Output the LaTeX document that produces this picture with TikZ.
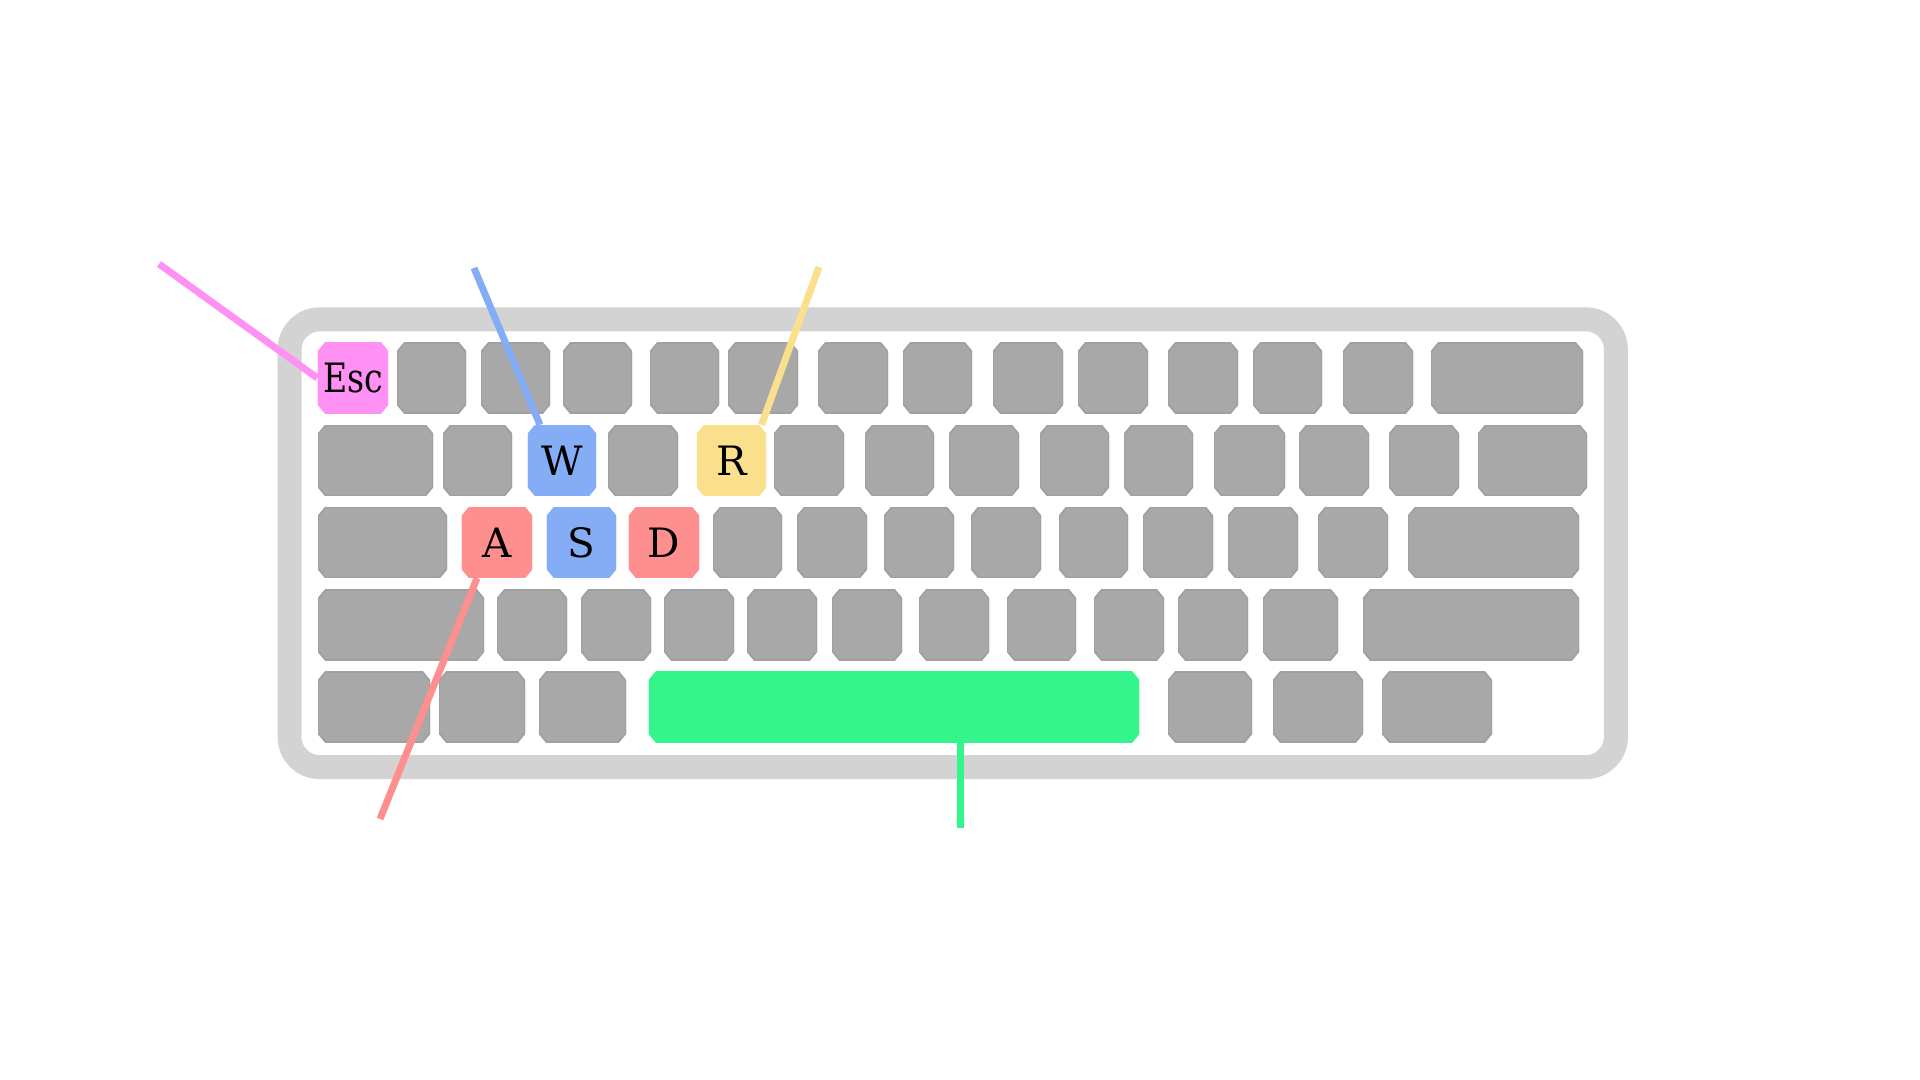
\documentclass[tikz,border=0pt]{standalone}
\usepackage{fontspec}
\setmainfont{DejaVu Serif}
\usepackage{tikz}

\definecolor{framegray}{RGB}{211,211,211}
\definecolor{keygray}{RGB}{168,168,168}
\definecolor{keyedge}{RGB}{160,160,160}
\definecolor{escpink}{RGB}{255,145,245}
\definecolor{wsblue}{RGB}{133,173,245}
\definecolor{ryellow}{RGB}{250,224,140}
\definecolor{adred}{RGB}{255,143,143}
\definecolor{spacegreen}{RGB}{51,245,140}

\tikzset{
    chamfer/.style 2 args={path picture={
        \path[fill=#1, draw=#2, line width=0.5pt]
            ([xshift=0.075cm]path picture bounding box.north west) -- ([xshift=-0.075cm]path picture bounding box.north east)
            -- ([yshift=-0.09cm]path picture bounding box.north east) -- ([yshift=0.09cm]path picture bounding box.south east)
            -- ([xshift=-0.075cm]path picture bounding box.south east) -- ([xshift=0.075cm]path picture bounding box.south west)
            -- ([yshift=0.09cm]path picture bounding box.south west) -- ([yshift=-0.09cm]path picture bounding box.north west)
            -- cycle;}}
}

\begin{document}
\begin{tikzpicture}[
    x=0.01cm, y=-0.01cm,
    board/.style={draw=framegray, fill=white, line width=0.24cm, rounded corners=0.3cm, minimum width=13.255cm, minimum height=4.475cm},
    key/.style={rectangle, inner sep=0pt, minimum height=0.7cm, chamfer={keygray}{keyedge}},
    hotkey/.style={rectangle, inner sep=0pt, minimum height=0.7cm, chamfer={#1}{#1}, font=\fontsize{11.5}{13}\selectfont},
    lead/.style={draw=#1, line width=0.07cm}
]
\useasboundingbox (0,0) rectangle (1920,1080);

\node[board] (board) at (952.75,543.25) {};

% gray keys, row by row
\foreach \l/\r [count=\i] in {397/466, 481/550, 563/632, 650/719, 728/798, 818/888, 903/972, 993/1063, 1078/1148, 1168/1238, 1253/1322, 1343/1413, 1431/1583}
    \node[key, minimum width={(\r-\l)*0.01cm}] (ra\i) at ({(\l+\r)/2},378) {};
\foreach \l/\r [count=\i] in {318/433, 443/512, 608/678, 774/844, 865/934, 949/1019, 1040/1109, 1124/1193, 1214/1285, 1299/1369, 1389/1459, 1478/1587}
    \node[key, minimum width={(\r-\l)*0.01cm}] (rb\i) at ({(\l+\r)/2},460.5) {};
\foreach \l/\r [count=\i] in {318/447, 713/782, 797/867, 884/954, 971/1041, 1059/1128, 1143/1213, 1228/1298, 1318/1388, 1408/1579}
    \node[key, minimum width={(\r-\l)*0.01cm}] (rc\i) at ({(\l+\r)/2},542.5) {};
\foreach \l/\r [count=\i] in {318/484, 497/567, 581/651, 664/734, 747/817, 832/902, 919/989, 1007/1076, 1094/1164, 1178/1248, 1263/1338, 1363/1579}
    \node[key, minimum width={(\r-\l)*0.01cm}] (rd\i) at ({(\l+\r)/2},625) {};
\foreach \l/\r [count=\i] in {318/430, 439/525, 539/626, 1168/1252, 1273/1363, 1382/1492}
    \node[key, minimum width={(\r-\l)*0.01cm}] (re\i) at ({(\l+\r)/2},707) {};

% marked keys
\node[hotkey=escpink, minimum width=0.7cm] (esc) at (353,378) {\scalebox{0.82}[1]{Esc}};
\node[hotkey=wsblue, minimum width=0.68cm] (W) at (562,460.5) {W};
\node[hotkey=ryellow, minimum width=0.69cm] (R) at (731.5,460.5) {R};
\node[hotkey=adred, minimum width=0.7cm] (A) at (497,542.5) {A};
\node[hotkey=wsblue, minimum width=0.69cm] (S) at (581.5,542.5) {S};
\node[hotkey=adred, minimum width=0.7cm] (D) at (664,542.5) {D};
\node[hotkey=spacegreen, minimum width=4.9cm] (space) at (894,707) {};

% leader lines
\coordinate (escEnd) at (159,264);
\coordinate (wEnd) at (474,268);
\coordinate (rEnd) at (819,267);
\coordinate (aEnd) at (380,819);
\coordinate (spaceEnd) at (960,828);

\draw[lead=escpink] (escEnd) -- (esc.west);
\draw[lead=wsblue] (wEnd) -- ([xshift=-0.22cm]W.north);
\draw[lead=ryellow] (rEnd) -- ([xshift=0.3cm]R.north);
\draw[lead=adred] ([xshift=-0.2cm]A.south) -- (aEnd);
\draw[lead=spacegreen] (space.south -| spaceEnd) -- (spaceEnd);

\end{tikzpicture}
\end{document}
